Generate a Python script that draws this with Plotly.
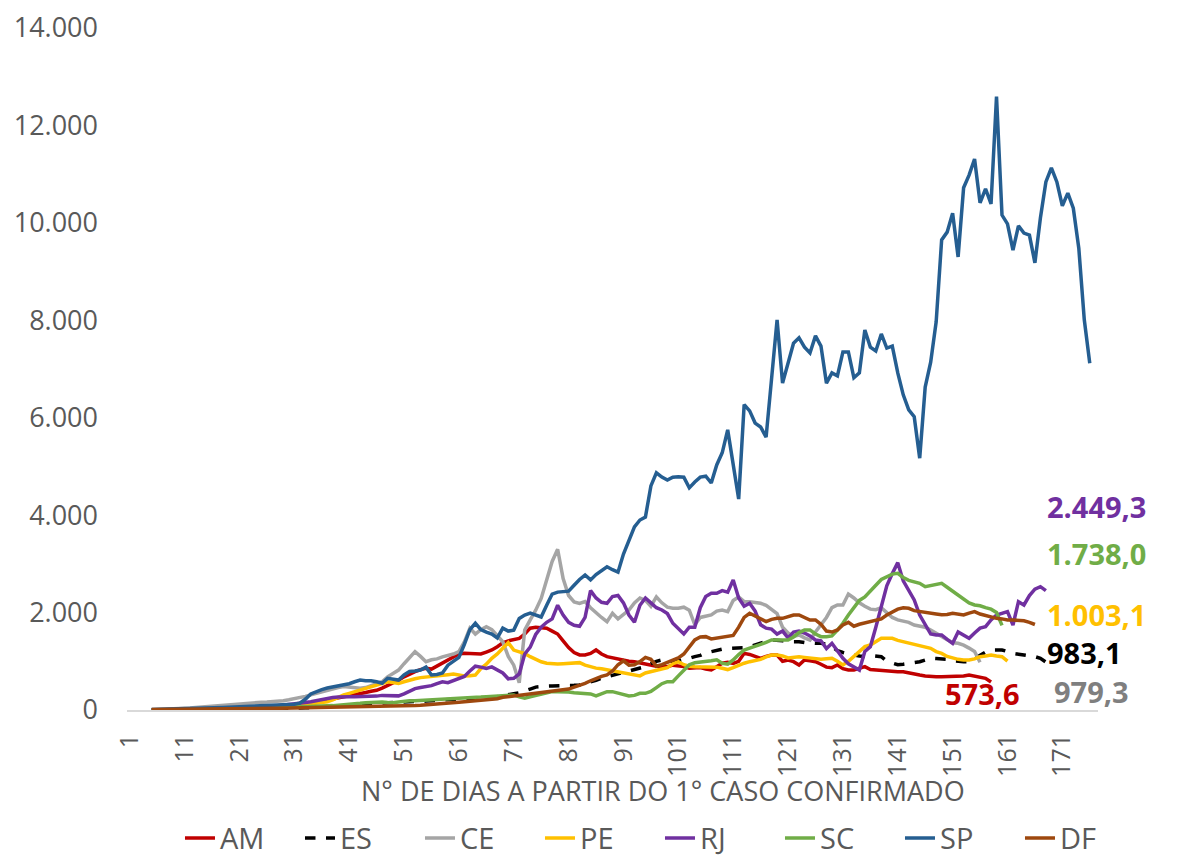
import plotly.graph_objects as go

# dias 1..N, cada linha de 10 valores = uma dezena (1-10, 11-20, ...)
# None = sem dado
AM = [
    None, None, None, None, 2, 3, 4, 5, 6, 8,
    10, 12, 14, 16, 18, 20, 22, 25, 28, 30,
    33, 36, 40, 44, 48, 52, 56, 60, 65, 75,
    90, 105, 120, 137, 160, 185, 205, 230, 250, 274,
    295, 320, 342, 360, 385, 405, 450, 500, 547, 610,
    680, 740, 787, 830, 855, 840, 900, 958, 1020, 1095,
    1150, 1163, 1163, 1155, 1150, 1190, 1232, 1300, 1380, 1420,
    1440, 1470, 1560, 1680, 1697, 1697, 1680, 1620, 1560, 1420,
    1280, 1180, 1130, 1130, 1160, 1232, 1150, 1095, 1070, 1050,
    1027, 1000, 990, 965, 940, 924, 900, 890, 890, 920,
    905, 890, 856, 870, 870, 840, 822, 890, 960, 980,
    958, 1000, 1163, 1140, 1100, 1061, 1100, 1129, 1129, 1000,
    1027, 992, 924, 1027, 1010, 992, 940, 880, 870, 924,
    850, 821, 821, 860, 890, 830, 821, 821, 800, 787,
    787, 787, 760, 740, 719, 700, 684, 684, 684, 684,
    684, 684, 700, 719, 700, 684, 650, 573.6,
]
ES = [
    None, None, None, None, 0, 1, 1, 2, 2, 3,
    3, 4, 5, 6, 7, 8, 9, 10, 11, 12,
    14, 16, 18, 20, 22, 24, 26, 28, 30, 33,
    36, 40, 44, 48, 52, 56, 60, 65, 72, 82,
    95, 110, 123, 128, 133, 137, 140, 144, 147, 150,
    157, 164, 168, 175, 183, 192, 200, 212, 222, 230,
    236, 240, 240, 240, 240, 240, 255, 275, 290, 315,
    335, 355, 400, 430, 470, 485, 490, 493, 493, 493,
    500, 507, 514, 540, 575, 610, 650, 685, 715, 745,
    775, 800, 830, 860, 890, 950, 1000, 1027, 1010, 993,
    1010, 1027, 1060, 1095, 1120, 1170, 1200, 1232, 1250, 1266,
    1266, 1266, 1280, 1300, 1340, 1369, 1410, 1437, 1437, 1420,
    1403, 1403, 1403, 1385, 1369, 1369, 1369, 1350, 1300, 1220,
    1180, 1150, 1129, 1110, 1100, 1120, 1110, 1095, 1000, 958,
    930, 940, 950, 975, 992, 1030, 1061, 1055, 1045, 1040,
    1010, 992, 992, 992, 1060, 1129, 1190, 1232, 1232, 1232,
    1200, 1163, 1145, 1129, 1110, 1095, 1060, 983.1,
]
CE = [
    None, None, None, None, 5, 8, 10, 15, 20, 25,
    30, 40, 50, 60, 70, 80, 90, 100, 110, 120,
    135, 145, 150, 155, 160, 165, 170, 175, 190, 210,
    230, 250, 280, 310, 340, 380, 410, 440, 460, 480,
    470, 460, 445, 460, 500, 540, 580, 680, 760, 820,
    950, 1080, 1197, 1100, 990, 1030, 1050, 1090, 1120, 1150,
    1200, 1400, 1680, 1560, 1650, 1710, 1650, 1520, 1400, 1100,
    920, 560, 1640, 1850, 2050, 2290, 2650, 3050, 3300, 2700,
    2350, 2220, 2190, 2225, 2100, 1990, 1900, 1814, 1985, 1870,
    1950, 2050, 2200, 2300, 2250, 2130, 2320, 2200, 2110, 2090,
    2088, 2110, 2050, 1750, 1900, 1930, 1951, 2030, 2050, 2020,
    2250, 2320, 2224, 2224, 2210, 2190, 2150, 2060, 1980, 1700,
    1580, 1510, 1540, 1480, 1437, 1600, 1750, 1900, 2100, 2156,
    2156, 2380, 2300, 2200, 2130, 2070, 2060, 2100, 2000, 1900,
    1850, 1820, 1800, 1745, 1720, 1700, 1640, 1580, 1520, 1450,
    1380, 1369, 1330, 1270, 1200, 979.3,
]
PE = [
    None, None, None, None, 1, 2, 3, 4, 5, 6,
    8, 10, 12, 14, 16, 18, 20, 22, 25, 28,
    30, 33, 36, 40, 44, 48, 52, 56, 60, 70,
    80, 95, 110, 125, 140, 155, 171, 210, 260, 308,
    340, 375, 400, 440, 475, 513, 550, 580, 565, 547,
    580, 616, 640, 665, 675, 684, 690, 710, 725, 739,
    720, 698, 705, 718, 850, 940, 1061, 1150, 1266, 1383,
    1230, 1198, 1160, 1095, 1040, 990, 960, 945, 945, 950,
    958, 965, 972, 920, 885, 860, 845, 825, 810, 790,
    770, 755, 730, 700, 760, 790, 810, 840, 870, 950,
    990, 930, 900, 890, 890, 890, 890, 880, 856, 830,
    870, 924, 960, 992, 1020, 1040, 1090, 1129, 1129, 1110,
    1070, 1080, 1095, 1080, 1065, 1055, 1040, 1050, 1061, 1000,
    924, 1000, 1100, 1197, 1300, 1334, 1400, 1471, 1471, 1471,
    1430, 1403, 1360, 1334, 1310, 1290, 1266, 1200, 1163, 1100,
    1061, 1040, 1027, 1027, 1050, 1095, 1110, 1129, 1110, 1095,
    1003.1,
]
RJ = [
    None, None, None, None, 1, 2, 3, 4, 5, 6,
    8, 10, 12, 15, 18, 21, 25, 28, 32, 36,
    40, 45, 50, 56, 62, 70, 80, 90, 100, 115,
    130, 140, 155, 171, 195, 220, 240, 255, 265, 274,
    274, 274, 274, 274, 274, 285, 300, 300, 285, 290,
    330, 390, 440, 460, 479, 500, 540, 580, 561, 600,
    650, 690, 800, 900, 880, 855, 885, 830, 760, 640,
    650, 740, 1150, 1290, 1550, 1700, 1800, 1870, 2150, 1950,
    1800, 1740, 1720, 1900, 2450, 2300, 2210, 2190, 2330, 2350,
    2200, 1950, 1800, 2150, 2300, 2200, 2100, 2054, 1980, 1780,
    1680, 1560, 1700, 1700, 2100, 2330, 2395, 2395, 2450, 2420,
    2669, 2300, 2130, 2190, 2030, 1750, 1680, 1660, 1560, 1620,
    1480, 1600, 1620, 1580, 1520, 1437, 1420, 1260, 1369, 1200,
    1060, 950, 890, 821, 1200, 1300, 1700, 2150, 2550, 2800,
    3025, 2650, 2470, 2260, 1950, 1750, 1560, 1540, 1540, 1450,
    1369, 1600, 1530, 1471, 1580, 1680, 1711, 1850, 1950, 1985,
    2019, 1745, 2224, 2156, 2350, 2480, 2532, 2449.3,
]
SC = [
    None, None, None, None, 0, 1, 1, 2, 2, 3,
    4, 5, 6, 8, 10, 12, 14, 16, 18, 20,
    22, 25, 28, 31, 34, 37, 40, 43, 46, 50,
    55, 60, 65, 70, 75, 80, 85, 90, 96, 103,
    115, 125, 137, 150, 160, 171, 165, 155, 150, 165,
    185, 188, 190, 195, 200, 205, 210, 215, 225, 232,
    240, 245, 250, 258, 265, 274, 280, 285, 290, 300,
    310, 270, 240, 270, 300, 330, 360, 377, 377, 377,
    370, 355, 343, 343, 330, 290, 330, 377, 377, 350,
    329, 290, 300, 343, 343, 380, 460, 540, 582, 582,
    700, 820, 930, 970, 980, 993, 1010, 1030, 960, 940,
    1027, 1140, 1230, 1270, 1300, 1345, 1390, 1437, 1437, 1437,
    1437, 1500, 1590, 1640, 1643, 1560, 1506, 1506, 1520, 1640,
    1780, 1950, 2110, 2250, 2320, 2430, 2560, 2680, 2737, 2790,
    2806, 2720, 2660, 2635, 2600, 2532, 2560, 2590, 2600, 2520,
    2440, 2380, 2280, 2200, 2156, 2140, 2100, 2070, 2000, 1738.0,
]
SP = [
    None, None, None, None, 10, 12, 15, 18, 20, 22,
    25, 28, 30, 32, 35, 40, 45, 50, 55, 60,
    65, 70, 75, 80, 85, 90, 95, 100, 105, 110,
    120, 140, 220, 330, 380, 420, 450, 470, 490, 510,
    540, 580, 615, 600, 600, 580, 550, 650, 630, 615,
    720, 790, 800, 820, 880, 720, 730, 760, 920, 1000,
    1080, 1350, 1650, 1780, 1650, 1600, 1560, 1480, 1680, 1620,
    1640, 1880, 1950, 1990, 1950, 1910, 2150, 2380, 2420, 2430,
    2440, 2560, 2680, 2770, 2670, 2780, 2870, 2940, 2880, 2830,
    3200, 3480, 3760, 3900, 3960, 4600, 4870, 4780, 4720, 4780,
    4790, 4780, 4560, 4680, 4780, 4800, 4660, 5030, 5280, 5750,
    5040, 4330, 6270, 6140, 5890, 5810, 5600, 6780, 8010, 6710,
    7120, 7530, 7640, 7450, 7330, 7680, 7470, 6710, 6920, 6860,
    7350, 7350, 6820, 6920, 7800, 7450, 7370, 7720, 7430, 7470,
    6920, 6470, 6160, 6020, 5170, 6630, 7140, 7970, 9650, 9810,
    10200, 9300, 10720, 10980, 11310, 10410, 10700, 10390, 12590, 10160,
    9980, 9440, 9940, 9790, 9750, 9180, 10100, 10840, 11130, 10840,
    10350, 10610, 10300, 9480, 8010, 7119.7,
]
DF = [
    None, None, None, None, 10, 12, 14, 15, 16, 17,
    18, 19, 20, 21, 22, 23, 24, 25, 26, 27,
    28, 29, 30, 31, 32, 33, 34, 34, 36, 38,
    40, 42, 44, 46, 48, 50, 52, 53, 54, 55,
    56, 58, 60, 62, 64, 65, 66, 67, 68, 72,
    78, 85, 90, 96, 103, 110, 118, 128, 137, 148,
    160, 171, 180, 190, 198, 205, 215, 230, 260, 274,
    290, 300, 308, 320, 340, 355, 365, 377, 390, 405,
    430, 470, 500, 548, 600, 651, 690, 719, 800, 930,
    1010, 920, 930, 993, 1080, 1040, 900, 930, 980, 1027,
    1070, 1150, 1300, 1440, 1500, 1506, 1460, 1480, 1506, 1510,
    1530, 1700, 1900, 1985, 1930, 1860, 1814, 1860, 1882, 1882,
    1920, 1950, 1950, 1900, 1848, 1848, 1760, 1620, 1600, 1643,
    1745, 1800, 1720, 1760, 1790, 1814, 1840, 1870, 1950, 2019,
    2070, 2100, 2087, 2040, 2019, 2000, 1985, 1970, 1955, 1960,
    1985, 1970, 1950, 1990, 2019, 1970, 1940, 1916, 1882, 1870,
    1848, 1848, 1848, 1830, 1800, 1755.1,
]

n_dias = 177
dias_ticks = list(range(1, n_dias + 1, 10))
titulo_x = "N° DE DIAS A PARTIR DO 1° CASO CONFIRMADO"

series = [
    ("AM", AM, "#C00000", "solid", "573,6"),
    ("ES", ES, "#000000", "dash", "983,1"),
    ("CE", CE, "#A5A5A5", "solid", "979,3"),
    ("PE", PE, "#FFC000", "solid", "1.003,1"),
    ("RJ", RJ, "#7030A0", "solid", "2.449,3"),
    ("SC", SC, "#70AD47", "solid", "1.738,0"),
    ("SP", SP, "#255E91", "solid", "7.119,7"),
    ("DF", DF, "#9E480E", "solid", "1.755,1"),
]

# posição dos rótulos finais (x em dias, y em valor) e cor do texto
rotulos = {
    "SP": (178.6, 6630, "#255E91"),
    "RJ": (177.3, 4170, "#7030A0"),
    "SC": (177.3, 3220, "#70AD47"),
    "DF": (178.2, 2610, "#843C0C"),
    "PE": (177.3, 1970, "#FFC000"),
    "ES": (175.1, 1190, "#000000"),
    "CE": (176.4, 380, "#7F7F7F"),
    "AM": (156.5, 340, "#C00000"),
}

fonte = "Open Sans"
cinza = "#595959"

# a página tem 8px de margem no body: a figura é 8px menor e deslocada
fig = go.Figure()
for nome, valores, cor, traco, texto in series:
    dias = list(range(1, len(valores) + 1))
    fig.add_trace(go.Scatter(
        x=dias, y=valores, mode="lines", name=nome,
        line=dict(color=cor, width=3.5, dash=traco),
    ))

anots = []
for nome, valores, cor, traco, texto in series:
    x, y, c = rotulos[nome]
    anots.append(dict(
        x=x, y=y, xref="x", yref="y", text="<b>" + texto + "</b>",
        showarrow=False, font=dict(family=fonte, size=29, color=c),
    ))
anots.append(dict(
    x=0.552, y=-0.118, xref="paper", yref="paper", text=titulo_x,
    showarrow=False, yanchor="middle",
    font=dict(family=fonte, size=27, color=cinza),
))

fig.update_layout(
    width=1179, height=854,
    margin=dict(l=119, r=89, t=20, b=152),
    plot_bgcolor="white", paper_bgcolor="white",
    separators=",.",
    font=dict(family=fonte, color=cinza),
    showlegend=True,
    legend=dict(
        orientation="h", xref="container", yref="container",
        x=0.553, xanchor="center", y=0.028, yanchor="middle",
        font=dict(size=29, color=cinza), entrywidth=75,
        itemwidth=30,
    ),
    annotations=anots,
)
fig.update_xaxes(
    range=[0.5, n_dias + 0.5], tickvals=dias_ticks, tickangle=-90,
    tickfont=dict(size=25, color=cinza), showgrid=False, zeroline=False,
    showline=True, linecolor="#D9D9D9", linewidth=2, ticks="",
    ticklabelstandoff=12, automargin=False,
)
fig.update_yaxes(
    range=[0, 14000], tickvals=list(range(0, 14001, 2000)), tickformat=",d",
    tickfont=dict(size=27, color=cinza), showgrid=False, zeroline=False,
    showline=False, ticks="", ticklabelstandoff=28, automargin=False,
)

fig.write_html("out.html")
